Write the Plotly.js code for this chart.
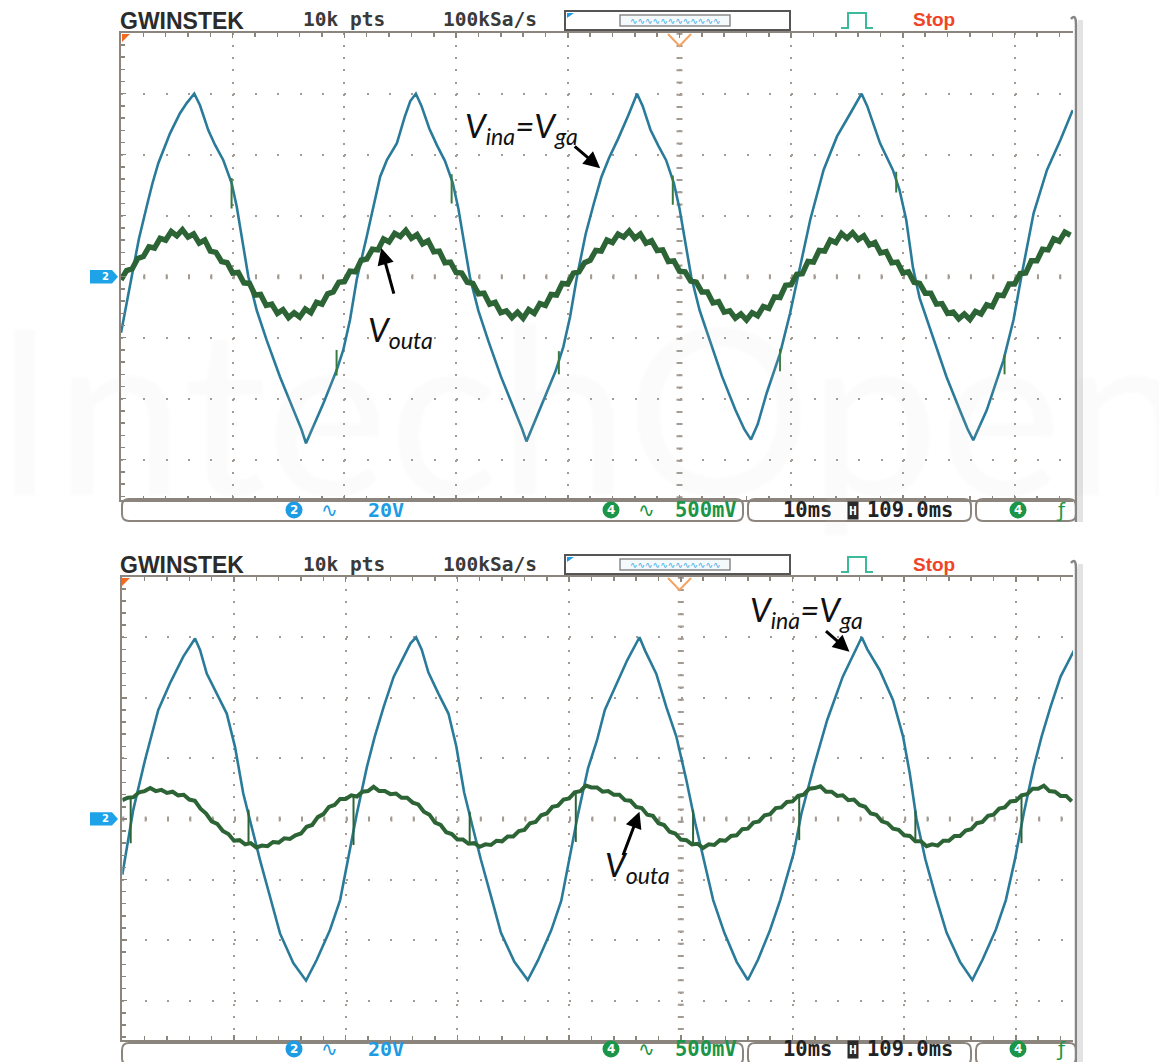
<!DOCTYPE html>
<html>
<head>
<meta charset="utf-8">
<script src="https://cdn.plot.ly/plotly-3.0.1.min.js"></script>
<style>html,body{margin:0;padding:0;background:#fff;}#chart{width:1159px;height:1062px;}</style>
</head>
<body>
<div id="chart"></div>
<script>
// ================= DATA (read from the two oscilloscope screens) =================
// time in ms from the left edge of the screen (10 ms/div), voltage in divisions
// ---- upper screen ----
const vinTopT = [0, 0.5, 1.0, 1.6, 2.3, 2.8, 3.34, 3.9, 4.39, 5.28, 5.9, 6.56,
  7.07, 7.82, 8.42, 9.16, 9.91, 10.36, 10.95, 11.4, 12.15, 13.04, 14.23, 15.43, 16.17, 16.56,
  17.22, 18.11, 19.31, 19.9, 20.5, 21.1, 22.0, 22.6, 23.2, 23.8, 24.7, 25.4, 25.9, 26.4,
  26.9, 27.6, 28.3, 29.0, 29.7, 30.2, 30.8, 31.25, 32.0, 32.9, 34.0, 35.2, 35.9, 36.3,
  36.9, 37.8, 38.9, 39.6, 40.2, 40.8, 41.6, 42.3, 43.0, 43.7, 44.5, 45.4, 46.2,
  46.7, 47.4, 48.1, 48.8, 49.5, 50.0, 50.6, 51.05, 51.8, 52.7, 53.8, 55.0, 55.8, 56.4,
  57.0, 57.8, 59.0, 59.9, 60.6, 61.7, 62.9, 64.1, 65.3, 66.3,
  66.8, 67.95, 69.1, 69.7, 70.3, 70.9, 71.5, 72.7, 73.9, 75.1, 75.8, 76.3,
  76.9, 77.5, 79.0, 79.9, 80.6, 81.7, 82.9, 84.1, 85.2];
const vinTopV = [-0.92, -0.45, 0.05, 0.62, 1.15, 1.52, 1.86, 2.12, 2.35, 2.68, 2.85, 3.0,
  2.81, 2.40, 2.16, 1.91, 1.53, 1.15, 0.49, 0.0, -0.55, -1.04, -1.64, -2.19, -2.51, -2.73,
  -2.46, -2.08, -1.53, -1.20, -0.71, -0.05, 0.66, 1.15, 1.64, 1.91, 2.19, 2.62, 2.88, 3.0,
  2.80, 2.43, 2.15, 1.90, 1.54, 1.12, 0.48, -0.02, -0.56, -1.06, -1.63, -2.17, -2.49, -2.70,
  -2.44, -2.05, -1.55, -1.15, -0.66, -0.02, 0.70, 1.18, 1.63, 1.95, 2.26, 2.64, 3.0,
  2.80, 2.41, 2.15, 1.91, 1.53, 1.12, 0.48, 0.0, -0.55, -1.05, -1.63, -2.18, -2.50, -2.67,
  -2.42, -1.91, -1.26, -0.60, 0.0, 0.93, 1.75, 2.30, 2.68, 3.0,
  2.80, 2.19, 1.75, 1.42, 0.93, 0.15, -0.35, -1.0, -1.64, -2.19, -2.50, -2.68,
  -2.44, -2.19, -1.37, -0.71, 0.0, 1.04, 1.75, 2.24, 2.73];
// Vouta, one reading every 0.5 ms
const voutTopV = [-0.05, 0.10, 0.13, 0.30, 0.33, 0.49, 0.47, 0.63, 0.60, 0.74, 0.67, 0.77, 0.65, 0.70, 0.55, 0.60,
  0.42, 0.40, 0.25, 0.23, 0.06, 0.07, -0.10, -0.11, -0.30, -0.29, -0.47, -0.45, -0.60, -0.54, -0.67, -0.59,
  -0.66, -0.53, -0.59, -0.42, -0.45, -0.28, -0.25, -0.09, -0.08, 0.09, 0.08, 0.27, 0.29, 0.45, 0.44, 0.62,
  0.57, 0.71, 0.66, 0.76, 0.63, 0.69, 0.54, 0.59, 0.41, 0.42, 0.23, 0.24, 0.07, 0.06, -0.09, -0.11,
  -0.28, -0.27, -0.45, -0.42, -0.59, -0.56, -0.67, -0.58, -0.68, -0.54, -0.60, -0.44, -0.47, -0.29, -0.30, -0.11,
  -0.12, 0.06, 0.08, 0.23, 0.27, 0.43, 0.42, 0.60, 0.56, 0.70, 0.65, 0.75, 0.63, 0.70, 0.55, 0.59,
  0.43, 0.44, 0.25, 0.26, 0.09, 0.08, -0.07, -0.09, -0.25, -0.25, -0.43, -0.41, -0.58, -0.56, -0.68, -0.61,
  -0.71, -0.59, -0.64, -0.49, -0.52, -0.33, -0.34, -0.14, -0.13, 0.04, 0.05, 0.25, 0.24, 0.43, 0.42, 0.60,
  0.56, 0.71, 0.63, 0.72, 0.61, 0.67, 0.52, 0.56, 0.39, 0.41, 0.23, 0.24, 0.06, 0.08, -0.09, -0.11,
  -0.27, -0.27, -0.45, -0.44, -0.60, -0.58, -0.69, -0.61, -0.70, -0.57, -0.61, -0.46, -0.49, -0.30, -0.31, -0.12,
  -0.12, 0.05, 0.06, 0.26, 0.26, 0.45, 0.44, 0.62, 0.58, 0.73, 0.68];
const glitchTopT = [9.9, 9.9, null, 19.3, 19.3, null, 29.6, 29.6, null, 39.2, 39.2, null, 49.4, 49.4, null,
  59.0, 59.0, null, 69.4, 69.4, null, 79.1, 79.1];
const glitchTopV = [1.62, 1.12, null, -1.20, -1.62, null, 1.68, 1.20, null, -1.22, -1.60, null, 1.66, 1.18, null,
  -1.18, -1.55, null, 1.72, 1.38, null, -1.28, -1.60];

// ---- lower screen ----
const vinBotT = [0, 0.98, 2.03, 3.22, 4.27, 5.46, 6.51,
  6.96, 7.56, 8.45, 9.35, 10.09, 10.83, 11.58, 12.33, 13.22, 14.12, 15.31, 16.45,
  17.4, 18.6, 19.5, 20.2, 21.0, 21.9, 22.6, 23.4, 24.3, 25.8, 26.3,
  26.8, 27.4, 28.3, 29.2, 29.9, 30.6, 31.35, 32.1, 33.0, 33.9, 35.1, 36.3,
  37.2, 38.4, 39.3, 40.0, 40.8, 41.7, 42.5, 43.2, 44.0, 45.2, 46.3,
  46.8, 47.8, 48.7, 49.6, 50.5, 51.3, 52.3, 52.9, 53.9, 55.0, 56.0,
  56.9, 58.0, 58.9, 60.1, 60.8, 61.9, 63.1, 64.5, 65.4, 66.2,
  66.7, 67.8, 69.0, 69.9, 70.5, 71.1, 71.9, 72.8, 73.8, 75.0, 76.1,
  77.0, 78.2, 79.1, 79.9, 80.7, 81.6, 82.3, 83.1, 84.0, 85.2];
const vinBotV = [-0.92, 0.15, 0.97, 1.80, 2.24, 2.68, 2.98,
  2.79, 2.40, 2.07, 1.74, 1.19, 0.42, -0.13, -0.68, -1.28, -1.89, -2.38, -2.67,
  -2.33, -1.83, -1.34, -0.68, 0.09, 0.86, 1.36, 1.85, 2.35, 2.90, 3.0,
  2.80, 2.42, 2.07, 1.74, 1.20, 0.44, -0.12, -0.67, -1.27, -1.88, -2.36, -2.66,
  -2.34, -1.84, -1.35, -0.70, 0.08, 0.84, 1.30, 1.80, 2.13, 2.62, 3.0,
  2.78, 2.40, 1.85, 1.36, 0.64, -0.07, -0.84, -1.34, -1.88, -2.36, -2.66,
  -2.33, -1.83, -1.34, -0.57, 0.09, 0.86, 1.63, 2.35, 2.70, 3.0,
  2.80, 2.46, 1.96, 1.36, 0.75, 0.0, -0.67, -1.27, -1.88, -2.36, -2.66,
  -2.33, -1.83, -1.34, -0.68, 0.09, 0.86, 1.36, 1.85, 2.35, 2.78];
const voutBotV = [0.31, 0.35, 0.36, 0.44, 0.46, 0.51, 0.46, 0.48, 0.43, 0.45, 0.39, 0.40, 0.32, 0.30, 0.17, 0.09,
  -0.04, -0.08, -0.20, -0.25, -0.36, -0.35, -0.42, -0.40, -0.47, -0.44, -0.45, -0.38, -0.39, -0.32, -0.33, -0.27,
  -0.24, -0.13, -0.10, 0.03, 0.08, 0.20, 0.23, 0.33, 0.33, 0.39, 0.37, 0.45, 0.46, 0.53, 0.46, 0.46,
  0.41, 0.42, 0.35, 0.35, 0.27, 0.24, 0.12, 0.07, -0.06, -0.10, -0.22, -0.25, -0.34, -0.34, -0.41, -0.40,
  -0.46, -0.42, -0.43, -0.36, -0.37, -0.29, -0.29, -0.20, -0.18, -0.07, -0.05, 0.06, 0.09, 0.20, 0.22, 0.32,
  0.34, 0.44, 0.46, 0.55, 0.52, 0.52, 0.45, 0.46, 0.40, 0.40, 0.31, 0.30, 0.20, 0.18, 0.07, 0.05,
  -0.07, -0.10, -0.21, -0.24, -0.34, -0.35, -0.42, -0.41, -0.48, -0.42, -0.43, -0.35, -0.36, -0.28, -0.27, -0.17,
  -0.16, -0.06, -0.04, 0.06, 0.08, 0.18, 0.19, 0.28, 0.29, 0.38, 0.40, 0.50, 0.51, 0.54, 0.45, 0.45,
  0.38, 0.39, 0.31, 0.32, 0.23, 0.20, 0.09, 0.07, -0.04, -0.07, -0.16, -0.18, -0.27, -0.28, -0.37, -0.37,
  -0.45, -0.42, -0.44, -0.36, -0.36, -0.28, -0.28, -0.19, -0.17, -0.07, -0.05, 0.05, 0.07, 0.17, 0.19, 0.29,
  0.30, 0.39, 0.41, 0.50, 0.50, 0.55, 0.46, 0.45, 0.38, 0.38, 0.29];
const spikeBotT = [0.75, 0.75, null, 11.3, 11.3, null, 20.7, 20.7, null, 31.1, 31.1, null, 40.6, 40.6, null,
  51.1, 51.1, null, 60.6, 60.6, null, 71.0, 71.0, null, 80.5, 80.5];
const spikeBotV = [0.36, -0.40, null, -0.41, 0.15, null, 0.38, -0.43, null, -0.40, 0.12, null, 0.43, -0.38, null,
  -0.41, 0.15, null, 0.37, -0.35, null, -0.36, 0.14, null, 0.37, -0.40];

const sampleStepMs = 0.5;
const voutTopT = voutTopV.map((_, i) => i * sampleStepMs);
const voutBotT = voutBotV.map((_, i) => i * sampleStepMs);

// labels on the screen
const headerLabels = ['GWINSTEK', '10k pts', '100kSa/s', 'Stop'];
const ch2Labels = ['2', '\u223F', '20V'];
const ch4Labels = ['4', '\u223F', '500mV'];
const timebaseLabels = ['10ms', 'H', '109.0ms'];
const triggerLabels = ['4', '\u0192'];
const vinLabel = '<i>V<sub>ina</sub>=V<sub>ga</sub></i>';
const voutLabel = '<i>V<sub>outa</sub></i>';
const watermark = 'IntechOpen';

// ================= LAYOUT =================
const W = 1159, H = 1062;
const px = x => x / W;
const py = y => 1 - y / H;
const GRID = '#a39b93', FRAME = '#8c857e';
const BLUE = '#2a7b9a', GREEN = '#2d6436';
const TXTBLUE = '#1d9be3', TXTGREEN = '#1b9548';

function axisX(l, r, anchor) {
  return {
    domain: [px(l), px(r)], range: [0, (r - l) / 11.17], anchor: anchor,
    showgrid: true, gridcolor: GRID, gridwidth: 2, griddash: '2px,10.2px',
    tick0: 0, dtick: 10, ticks: 'inside', ticklen: 5, tickwidth: 1.5, tickcolor: FRAME,
    minor: {dtick: 2, ticks: 'inside', ticklen: 4, tickwidth: 1.5, tickcolor: FRAME, showgrid: false},
    showticklabels: false, showline: true, linecolor: FRAME, linewidth: 2, mirror: 'allticks',
    zeroline: false, fixedrange: true
  };
}
function axisY(top, bottom, lo, anchor) {
  const hi = 4;
  return {
    domain: [py(bottom), py(top)], range: [lo, hi], anchor: anchor,
    showgrid: true, gridcolor: GRID, gridwidth: 2, griddash: '2px,20.34px',
    tick0: 0, dtick: 1, ticks: 'inside', ticklen: 5, tickwidth: 1.5, tickcolor: FRAME,
    minor: {dtick: 0.2, ticks: 'inside', ticklen: 4, tickwidth: 1.5, tickcolor: FRAME, showgrid: false},
    showticklabels: false, showline: true, linecolor: FRAME, linewidth: 2, mirror: false,
    zeroline: false, fixedrange: true
  };
}

function pPath(pts, close) {
  let s = pts.map((p, i) => (i ? 'L' : 'M') + px(p[0]).toFixed(5) + ',' + py(p[1]).toFixed(5)).join(' ');
  return close ? s + ' Z' : s;
}
function roundBox(x0, y0, x1, y1, r) {
  const P = (x, y) => px(x).toFixed(5) + ',' + py(y).toFixed(5);
  return 'M' + P(x0 + r, y0) + ' L' + P(x1 - r, y0) + ' Q' + P(x1, y0) + ' ' + P(x1, y0 + r) +
    ' L' + P(x1, y1 - r) + ' Q' + P(x1, y1) + ' ' + P(x1 - r, y1) +
    ' L' + P(x0 + r, y1) + ' Q' + P(x0, y1) + ' ' + P(x0, y1 - r) +
    ' L' + P(x0, y0 + r) + ' Q' + P(x0, y0) + ' ' + P(x0 + r, y0) + ' Z';
}

const shapes = [];
const annotations = [];
function txt(x, y, text, font, opts) {
  annotations.push(Object.assign({xref: 'paper', yref: 'paper', x: px(x), y: py(y), text: text,
    showarrow: false, xanchor: 'left', yanchor: 'middle', borderpad: 0, font: font}, opts || {}));
}
function badge(cx, cy, r, color, label) {
  shapes.push({type: 'circle', xref: 'paper', yref: 'paper', x0: px(cx - r), x1: px(cx + r), y0: py(cy + r), y1: py(cy - r),
    fillcolor: color, line: {width: 0}});
  txt(cx, cy, '<b>' + label + '</b>', {family: 'DejaVu Sans', size: 12, color: '#ffffff'}, {xanchor: 'center'});
}
const MONO = 'DejaVu Sans Mono, Liberation Mono, monospace';

[0, 1].forEach(p => {
  const oy = p * 544;
  const sy = p ? 1049 : 510;   // status-line text centre
  const xa = p ? 'x2' : 'x', ya = p ? 'y2' : 'y';
  // centre axes with fine ticks
  shapes.push({type: 'line', xref: xa, yref: ya + ' domain', x0: 50, x1: 50, y0: 1, y1: 0,
    line: {color: GRID, width: 6, dash: '2px,10.2px'}, layer: 'below'});
  shapes.push({type: 'line', xref: xa + ' domain', yref: ya, x0: 0, x1: 1, y0: 0, y1: 0,
    line: {color: GRID, width: 5, dash: '2px,20.34px'}, layer: 'below'});
  // trigger markers
  shapes.push({type: 'path', xref: 'paper', yref: 'paper', path: pPath([[122, 34 + oy], [130, 34 + oy], [122, 42 + oy]], true),
    fillcolor: '#f26a21', line: {width: 0}});
  shapes.push({type: 'path', xref: 'paper', yref: 'paper', path: pPath([[668, 34 + oy], [679.5, 46 + oy], [691, 34 + oy]]),
    line: {color: '#f4a462', width: 2}});
  // channel 2 ground tag
  shapes.push({type: 'path', xref: 'paper', yref: ya,
    path: 'M' + px(90) + ',0.11 L' + px(112) + ',0.11 L' + px(118) + ',0 L' + px(112) + ',-0.11 L' + px(90) + ',-0.11 Z',
    fillcolor: '#1ea3e9', line: {width: 0}});
  annotations.push({xref: 'paper', yref: ya, x: px(101), y: 0, text: '<b>2</b>', showarrow: false, borderpad: 0,
    font: {family: 'DejaVu Sans', size: 10, color: '#ffffff'}});
  // header
  txt(119, 21 + oy, '<b>' + headerLabels[0] + '</b>', {family: 'Liberation Sans, Arial, sans-serif', size: 23, color: '#2b2b2b'});
  txt(302, 20 + oy, '<b>' + headerLabels[1] + '</b>', {family: MONO, size: 19.5, color: '#3a3a3a'});
  txt(442, 20 + oy, '<b>' + headerLabels[2] + '</b>', {family: MONO, size: 19.5, color: '#3a3a3a'});
  txt(912, 20 + oy, '<b>' + headerLabels[3] + '</b>', {family: 'Liberation Sans, Arial, sans-serif', size: 19, color: '#f04428'});
  shapes.push({type: 'rect', xref: 'paper', yref: 'paper', x0: px(565), x1: px(790), y0: py(30 + oy), y1: py(11 + oy),
    line: {color: '#555555', width: 2}});
  shapes.push({type: 'rect', xref: 'paper', yref: 'paper', x0: px(620), x1: px(730), y0: py(26 + oy), y1: py(15 + oy),
    line: {color: '#8a8a8a', width: 1.5}, fillcolor: '#f4f9fc'});
  txt(675, 20.5 + oy, '\u223F\u223F\u223F\u223F\u223F\u223F\u223F\u223F\u223F\u223F\u223F\u223F',
    {family: 'DejaVu Sans', size: 9, color: '#38a9e6'}, {xanchor: 'center'});
  shapes.push({type: 'path', xref: 'paper', yref: 'paper', path: pPath([[567, 13 + oy], [574, 13 + oy], [567, 18 + oy]], true),
    fillcolor: '#1e9be8', line: {width: 0}});
  shapes.push({type: 'path', xref: 'paper', yref: 'paper',
    path: pPath([[841, 28 + oy], [848, 28 + oy], [848, 13 + oy], [866, 13 + oy], [866, 28 + oy], [873, 28 + oy]]),
    line: {color: '#3dbb98', width: 2}});
  // status bar
  [[122, 743], [748, 971], [976, 1076]].forEach(b => {
    shapes.push({type: 'path', xref: 'paper', yref: 'paper', path: roundBox(b[0], 499 + oy, b[1], 521 + oy, 7),
      line: {color: FRAME, width: 2}});
  });
  badge(294, sy, 8.5, TXTBLUE, ch2Labels[0]);
  txt(320, sy, ch2Labels[1], {family: 'DejaVu Sans', size: 20, color: TXTBLUE});
  txt(367, sy, '<b>' + ch2Labels[2] + '</b>', {family: MONO, size: 20, color: TXTBLUE});
  badge(611, sy, 8.5, TXTGREEN, ch4Labels[0]);
  txt(637, sy, ch4Labels[1], {family: 'DejaVu Sans', size: 20, color: TXTGREEN});
  txt(674, sy, '<b>' + ch4Labels[2] + '</b>', {family: MONO, size: 20.5, color: TXTGREEN});
  txt(782, sy, '<b>' + timebaseLabels[0] + '</b>', {family: MONO, size: 20.5, color: '#222222'});
  txt(847, sy, '<b>' + timebaseLabels[1] + '</b>', {family: MONO, size: 13, color: '#ffffff'},
    {bgcolor: '#2a2a2a', borderpad: 1});
  txt(866, sy, '<b>' + timebaseLabels[2] + '</b>', {family: MONO, size: 20.5, color: '#222222'});
  badge(1018, sy, 8.5, TXTGREEN, triggerLabels[0]);
  txt(1055, sy, triggerLabels[1], {family: 'DejaVu Sans', size: 20, color: TXTGREEN});
  // right soft-menu edge
  shapes.push({type: 'rect', xref: 'paper', yref: 'paper', x0: px(1078), x1: px(1083), y0: py(522 + oy), y1: py(20 + oy),
    fillcolor: '#e3e3e3', line: {width: 0}});
  shapes.push({type: 'path', xref: 'paper', yref: 'paper',
    path: 'M' + px(1071) + ',' + py(19 + oy) + ' Q' + px(1076) + ',' + py(13 + oy) + ' ' + px(1076) + ',' + py(25 + oy) +
      ' L' + px(1076) + ',' + py(522 + oy),
    line: {color: '#858585', width: 2.5}});
});

// labels with arrows
const LBL = {family: 'Lato, Open Sans, sans-serif', size: 33, color: '#111111'};
annotations.push({xref: 'x', yref: 'y', x: 30.6, y: 2.45, text: vinLabel, showarrow: false, xanchor: 'left', yanchor: 'middle', font: LBL});
annotations.push({xref: 'x', yref: 'y', x: 21.9, y: -0.9, text: voutLabel, showarrow: false, xanchor: 'left', yanchor: 'middle', font: LBL});
annotations.push({xref: 'x2', yref: 'y2', x: 56.0, y: 3.42, text: vinLabel, showarrow: false, xanchor: 'left', yanchor: 'middle', font: LBL});
annotations.push({xref: 'x2', yref: 'y2', x: 43.0, y: -0.78, text: voutLabel, showarrow: false, xanchor: 'left', yanchor: 'middle', font: LBL});
const ARW = {text: '', showarrow: true, arrowhead: 2, arrowsize: 1.1, arrowwidth: 3, arrowcolor: '#000000', standoff: 0, startstandoff: 0};
annotations.push(Object.assign({xref: 'x', yref: 'y', x: 42.9, y: 1.78, ax: -27, ay: -23}, ARW));
annotations.push(Object.assign({xref: 'x', yref: 'y', x: 23.3, y: 0.47, ax: 13, ay: 47}, ARW));
annotations.push(Object.assign({xref: 'x2', yref: 'y2', x: 65.1, y: 2.76, ax: -25, ay: -22}, ARW));
annotations.push(Object.assign({xref: 'x2', yref: 'y2', x: 46.3, y: 0.12, ax: -17, ay: 45}, ARW));

// faint publisher watermark (outline look)
annotations.push({xref: 'paper', yref: 'paper', x: px(-10), y: py(405), xanchor: 'left', yanchor: 'middle',
  text: watermark, showarrow: false,
  font: {family: 'Lato, sans-serif', size: 232, color: 'rgba(255,255,255,0.02)',
    shadow: '1px 1px 0 #d2d2d2, -1px -1px 0 #d2d2d2, 1px -1px 0 #d2d2d2, -1px 1px 0 #d2d2d2'}});

const traces = [
  {x: vinTopT, y: vinTopV, xaxis: 'x', yaxis: 'y', mode: 'lines', line: {color: BLUE, width: 2.6}, hoverinfo: 'skip'},
  {x: voutTopT, y: voutTopV, xaxis: 'x', yaxis: 'y', mode: 'lines', line: {color: GREEN, width: 5.5}, hoverinfo: 'skip'},
  {x: glitchTopT, y: glitchTopV, xaxis: 'x', yaxis: 'y', mode: 'lines', line: {color: '#3b7a3e', width: 2}, hoverinfo: 'skip'},
  {x: vinBotT, y: vinBotV, xaxis: 'x2', yaxis: 'y2', mode: 'lines', line: {color: BLUE, width: 2.6}, hoverinfo: 'skip'},
  {x: voutBotT, y: voutBotV, xaxis: 'x2', yaxis: 'y2', mode: 'lines', line: {color: GREEN, width: 4}, hoverinfo: 'skip'},
  {x: spikeBotT, y: spikeBotV, xaxis: 'x2', yaxis: 'y2', mode: 'lines', line: {color: GREEN, width: 2}, hoverinfo: 'skip'}
];

const layout = {
  width: W, height: H, margin: {l: 0, r: 0, t: 0, b: 0, pad: 0},
  paper_bgcolor: '#ffffff', plot_bgcolor: '#ffffff', showlegend: false,
  xaxis: axisX(121, 1073, 'y'), yaxis: axisY(32.7, 500, -3.66, 'x'),
  xaxis2: axisX(122.3, 1073, 'y2'), yaxis2: axisY(576.7, 1040, -3.65, 'x2'),
  shapes: shapes, annotations: annotations
};
Plotly.newPlot('chart', traces, layout, {staticPlot: true, displayModeBar: false});
</script>
</body>
</html>
